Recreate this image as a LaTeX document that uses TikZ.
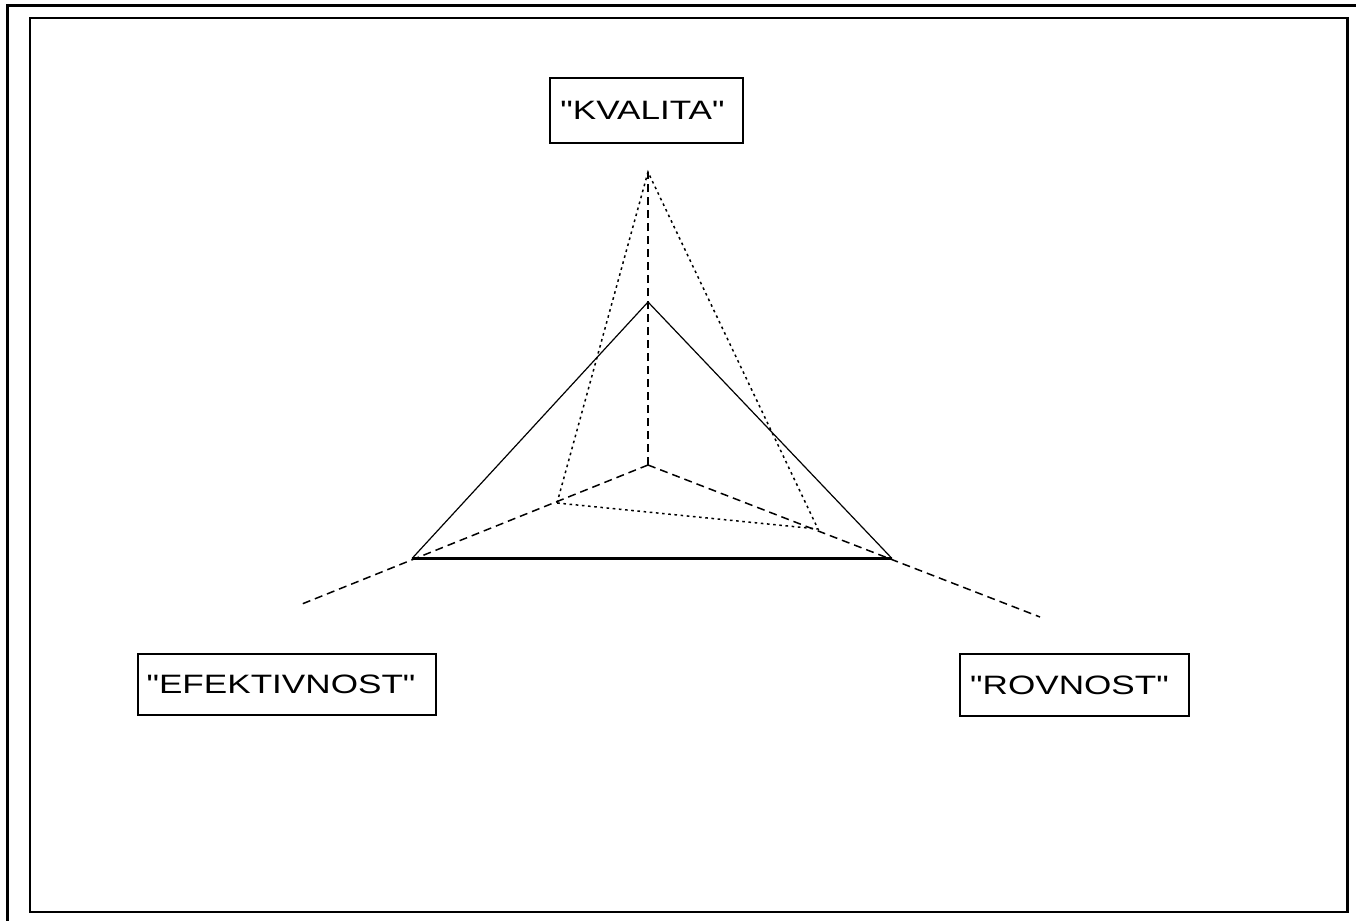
\documentclass[tikz,border=0pt]{standalone}
\usepackage{fontspec}
\usepackage{tikz}
\newfontfamily\labelfont[FakeStretch=1.32]{Liberation Sans}
\usetikzlibrary{positioning}

\tikzset{
	labelbox/.style = {draw, rectangle, line width=0.8pt, inner sep=0pt, align=center, font=\labelfont\fontsize{13.3}{15}\selectfont},
	axisline/.style = {line width=0.75pt, dash pattern=on 4pt off 2.5pt},
	dotline/.style = {line width=0.75pt, dash pattern=on 1.3pt off 1.8pt},
	solidline/.style = {line width=0.6pt}
}

\begin{document}
\begin{tikzpicture}[x=0.5pt, y=-0.5pt]
	\useasboundingbox (0,0) rectangle (1356,921);
	
	% frames
	\draw[line width=1.6pt] (7.5,921) -- (7.5,5.5) -- (1356,5.5);
	\draw[line width=1.1pt] (30,18) rectangle (1347.5,912);
	
	\node[labelbox, minimum width=96.5pt, minimum height=32.5pt] (kvalita) at (646.5,110.5) {"KVALITA"\hspace{4pt}};
	
	\node[labelbox, minimum width=149pt, minimum height=30.5pt] (efektivnost) at (287,684.5) {"EFEKTIVNOST"\hspace{6pt}};
	
	\node[labelbox, minimum width=114.5pt, minimum height=31pt] (rovnost) at (1074.5,685) {"ROVNOST"\hspace{5pt}};
	
	\coordinate (center) at (648,465);
	\coordinate (qtop) at (648,172);
	\coordinate (eend) at (302,604);
	\coordinate (rend) at (1040,617);
	
	\coordinate (stop) at (648,302);
	\coordinate (sleft) at (412,558.5);
	\coordinate (sright) at (892,558.5);
	
	\coordinate (dleft) at (557,503);
	\coordinate (dright) at (818,529);
	
	\draw[axisline] (center) -- (qtop);
	
	\draw[axisline] (center) -- (eend);
	
	\draw[axisline] (center) -- (rend);
	
	\draw[solidline] (sleft) -- (stop) -- (sright);
	
	\draw[line width=1.1pt] (sleft) -- (sright);
	
	\draw[dotline] (dleft) -- (qtop) -- (dright) -- cycle;
\end{tikzpicture}
\end{document}
